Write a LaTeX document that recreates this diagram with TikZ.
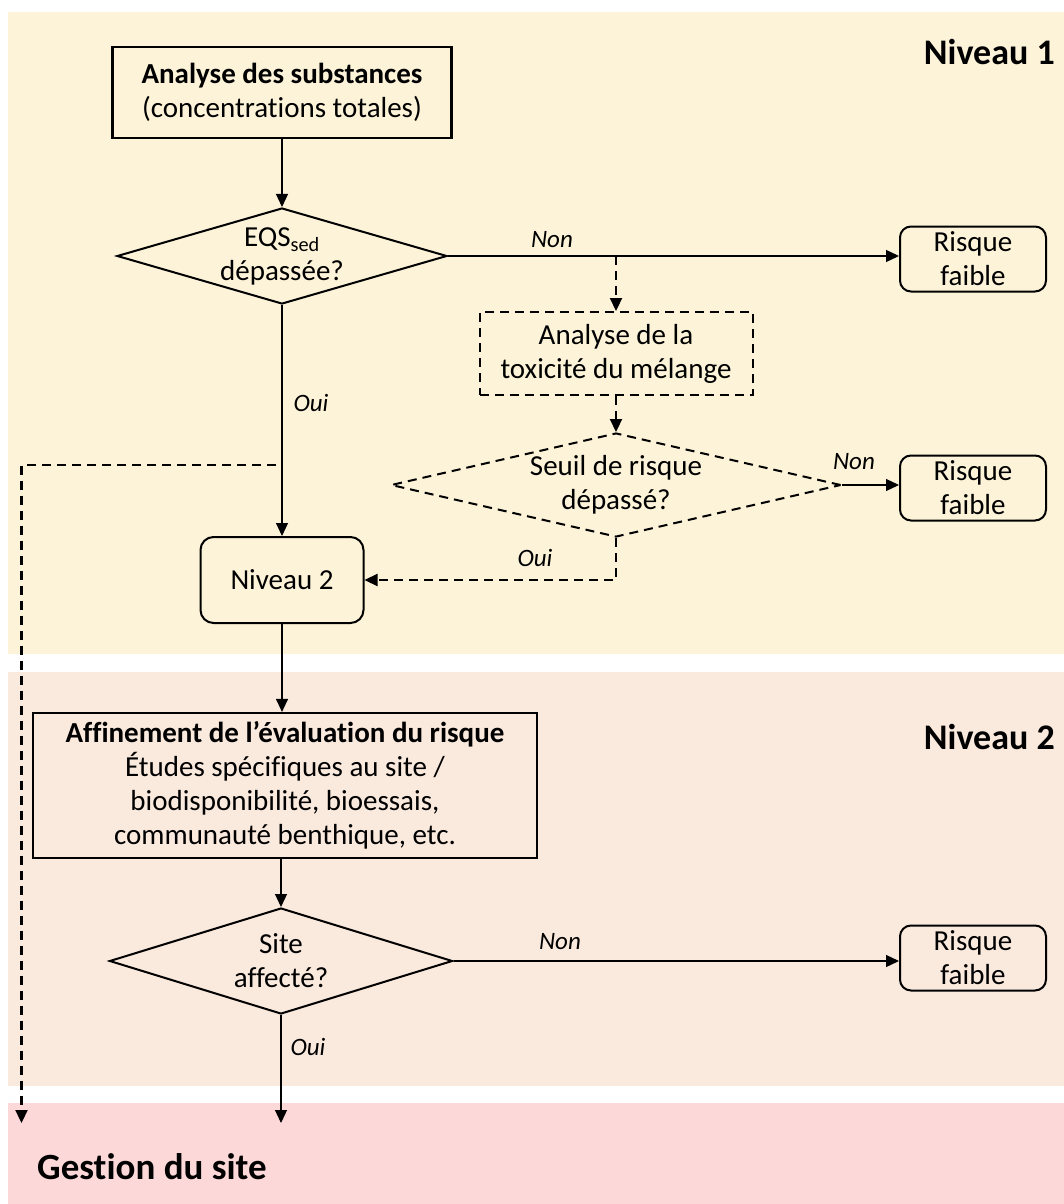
\documentclass[tikz,border=0pt]{standalone}
\usepackage{fontspec}
\setmainfont[Ligatures=NoCommon]{Carlito}
\usetikzlibrary{shapes.geometric,arrows.meta}
\definecolor{lvlone}{HTML}{FCF3D8}
\definecolor{lvltwo}{HTML}{FAE9DD}
\definecolor{lvlthree}{HTML}{FDD8D9}
\begin{document}
\begin{tikzpicture}[x=1pt,y=-1pt,
  txt/.style={font=\fontsize{29}{34}\selectfont, align=center, inner sep=0pt},
  bbox/.style={txt, draw=black, line width=2.2pt, rectangle},
  rbox/.style={txt, draw=black, line width=2pt, rectangle, rounded corners=11pt,
               minimum width=146pt, minimum height=65pt},
  dbox/.style={txt, draw=black, line width=2pt, rectangle, dash pattern=on 9pt off 6pt},
  dia/.style={txt, draw=black, line width=2pt, diamond},
  ddia/.style={dia, dash pattern=on 9pt off 6pt},
  conn/.style={draw=black, line width=1.2pt, -{Triangle[length=13pt,width=12pt]}},
  dconn/.style={conn, line width=2.2pt, dash pattern=on 9pt off 6pt},
  lbl/.style={font=\fontsize{25}{30}\selectfont\itshape, inner sep=0pt},
  lvl/.style={font=\fontsize{36}{40}\selectfont\bfseries, inner sep=0pt}
]
\fill[white] (0,0) rectangle (1064,1204);
\fill[lvlone] (8,12) rectangle (1064,654);
\fill[lvltwo] (8,672) rectangle (1064,1086);
\fill[lvlthree] (8,1103) rectangle (1064,1204);
\useasboundingbox (0,0) rectangle (1064,1204);

% Niveau 1
\node[bbox, minimum width=339pt, minimum height=91pt] (ana) at (282,92.5)
  {\textbf{Analyse des substances}\\(concentrations totales)};
\node[dia, minimum width=330pt, minimum height=96pt, shape aspect=3.44] (d1) at (282,256)
  {EQS\textsubscript{sed}\\dépassée?};
\node[rbox] (r1) at (973,259) {Risque\\faible};
\node[dbox, minimum width=273pt, minimum height=83pt] (tox) at (616,353.5)
  {Analyse de la\\toxicité du mélange};
\node[ddia, minimum width=450pt, minimum height=104pt, shape aspect=4.33] (d2) at (616,485)
  {Seuil de risque\\dépassé?};
\node[rbox] (r2) at (973,488) {Risque\\faible};
\node[txt, draw=black, line width=2pt, rounded corners=13pt, minimum width=163pt, minimum height=86pt]
  (n2) at (282,580) {Niveau 2};

% Niveau 2
\node[bbox, minimum width=504pt, minimum height=145pt] (aff) at (285,785.5)
  {\textbf{Affinement de l’évaluation du risque}\\Études spécifiques au site /\\biodisponibilité, bioessais,\\communauté benthique, etc.};
\node[dia, minimum width=343pt, minimum height=106pt, shape aspect=3.24] (d3) at (281,961)
  {Site\\affecté?};
\node[rbox] (r3) at (973,958) {Risque\\faible};

% level titles
\node[lvl, anchor=east] (lv1) at (1055,52) {Niveau 1};
\node[lvl, anchor=east] (lv2) at (1055,737) {Niveau 2};
\node[lvl, anchor=west, font=\fontsize{37}{40}\selectfont\bfseries] (gest) at (37,1167) {Gestion du site};

% connectors
\draw[conn] (ana) -- (d1);
\draw[conn] (d1.east) -- (d1.east -| r1.west);
\coordinate (br) at (d1.east -| tox.north);
\draw[dconn] (br) -- (tox.north);
\draw[dconn] (tox.south) -- (d2.north);
\draw[conn] (d2.east) -- (d2.east -| r2.west);
\draw[dconn] (d2.south) |- (n2.east);
\draw[conn] (d1.south) -- (n2.north);
\coordinate (sp) at (276,465);
\coordinate (gl) at (21.5,1123);
\draw[dconn] (sp) -| (gl);
\draw[conn] (n2.south) -- (n2.south |- aff.north);
\draw[conn] (d3.north |- aff.south) -- (d3.north);
\draw[conn] (d3.east) -- (d3.east -| r3.west);
\coordinate (gm) at (281,1123);
\draw[conn] (d3.south) -- (gm);

% labels
\node[lbl] (non1) at (552,240) {Non};
\node[lbl] (oui1) at (311,403) {Oui};
\node[lbl] (non2) at (854,462) {Non};
\node[lbl] (oui2) at (535,558) {Oui};
\node[lbl] (non3) at (560,942) {Non};
\node[lbl] (oui3) at (308,1047) {Oui};
\end{tikzpicture}
\end{document}
